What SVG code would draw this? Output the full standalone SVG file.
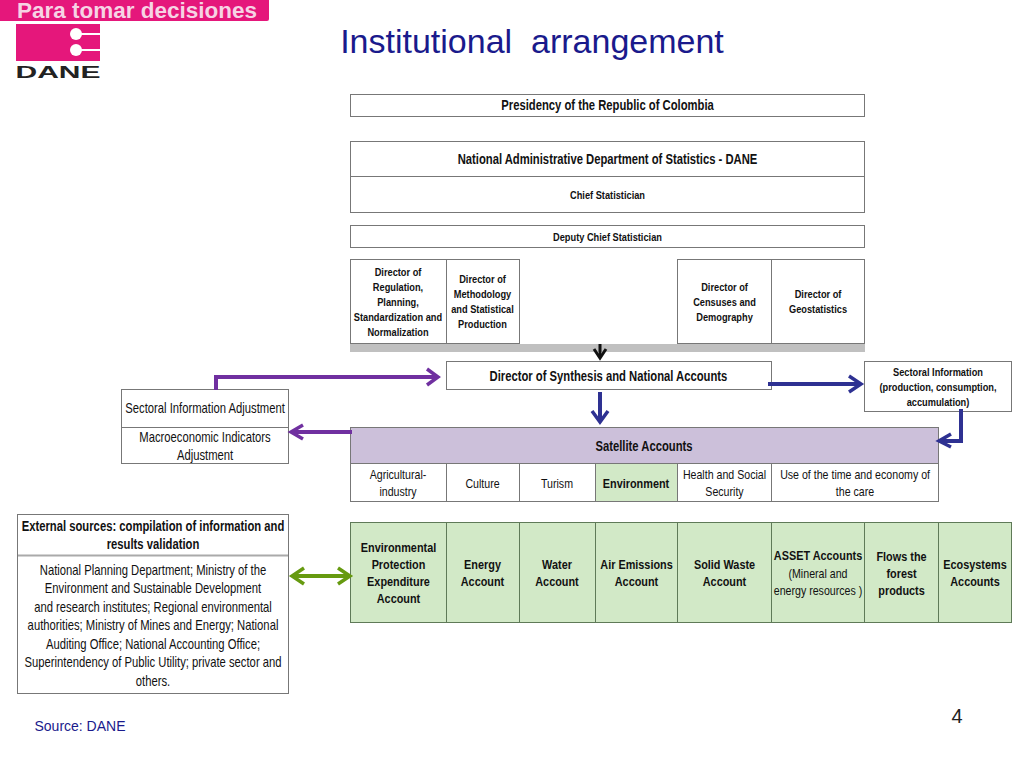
<svg xmlns="http://www.w3.org/2000/svg" width="1024" height="768" viewBox="0 0 1024 768">
<style>
text{font-family:"Liberation Sans",Arial,sans-serif;fill:#111;text-anchor:middle}
.s,.m,.t,.k{transform-box:fill-box;transform-origin:center;transform:scaleX(.805)}
.b{font-weight:700}
.s{font-size:11.500px}.m{font-size:14px}.t{font-size:13.200px}.k{font-size:13.500px;font-weight:700}
.box{fill:#fff;stroke:#777;stroke-width:1}
.g{fill:#d2e9c7;stroke:#5f7a58}
.c{fill:none;stroke-width:4}
.h{fill:none;stroke-width:3.500}
.pu{stroke:#7030a0}.bl{stroke:#2e3192}.gr{stroke:#669a10}
</style>
<rect width="1024" height="768" fill="#fff"/>
<g id="logo">
<path d="M0 0H269V19Q269 21 267 21H0Z" fill="#e5177b"/>
<text x="17" y="18" style="font-size:22.500px;font-weight:700;fill:#f6d3e4;text-anchor:start">Para tomar decisiones</text>
<rect x="16" y="24" width="84" height="37" fill="#e5177b"/>
<path d="M76 34H100M76 50H100" stroke="#fff" stroke-width="2"/>
<circle cx="76" cy="34" r="6" fill="#fff"/><circle cx="76" cy="50" r="6" fill="#fff"/>
<text x="58" y="78" style="font-size:17px;font-weight:700;fill:#222" textLength="85" lengthAdjust="spacingAndGlyphs">DANE</text>
</g>
<text x="532" y="53" xml:space="preserve" style="font-size:34px;fill:#1a1a8c;white-space:pre">Institutional  arrangement</text>
<g id="presidency"><rect class="box" x="350.500" y="94.500" width="514" height="22"/><text class="b m" x="607.500" y="110">Presidency of the Republic of Colombia</text></g>
<g id="dane"><rect class="box" x="350.500" y="141.500" width="514" height="35"/><text class="b m" x="607.500" y="164">National Administrative Department of Statistics - DANE</text></g>
<g id="chief"><rect class="box" x="350.500" y="176.500" width="514" height="36"/><text class="b s" x="607.500" y="199">Chief Statistician</text></g>
<g id="deputy"><rect class="box" x="350.500" y="225.500" width="514" height="22"/><text class="b s" x="607.500" y="241">Deputy Chief Statistician</text></g>
<rect x="350" y="344" width="515" height="8" fill="#c0c0c0"/>
<g id="dir-regulation"><rect class="box" x="350.500" y="259.500" width="96" height="84"/><text class="b s" x="398" y="276">Director of</text><text class="b s" x="398" y="291">Regulation,</text><text class="b s" x="398" y="306">Planning,</text><text class="b s" x="398" y="321">Standardization and</text><text class="b s" x="398" y="336">Normalization</text></g>
<g id="dir-methodology"><rect class="box" x="446.500" y="259.500" width="73" height="84"/><text class="b s" x="482.500" y="283">Director of</text><text class="b s" x="482.500" y="298">Methodology</text><text class="b s" x="482.500" y="313">and Statistical</text><text class="b s" x="482.500" y="328">Production</text></g>
<g id="dir-censuses"><rect class="box" x="677.500" y="259.500" width="94" height="84"/><text class="b s" x="724.500" y="291">Director of</text><text class="b s" x="724.500" y="306">Censuses and</text><text class="b s" x="724.500" y="321">Demography</text></g>
<g id="dir-geo"><rect class="box" x="771.500" y="259.500" width="93" height="84"/><text class="b s" x="818" y="298">Director of</text><text class="b s" x="818" y="313">Geostatistics</text></g>
<g id="dir-synthesis"><rect class="box" x="446.500" y="361.500" width="325" height="28"/><text class="b m" x="608.500" y="381">Director of Synthesis and National Accounts</text></g>
<g id="sectoral-info"><rect class="box" x="864.500" y="361.500" width="147" height="50"/><text class="b s" x="938" y="376">Sectoral Information</text><text class="b s" x="938" y="391">(production, consumption,</text><text class="b s" x="938" y="406">accumulation)</text></g>
<g id="sectoral-adj"><rect class="box" x="121.500" y="389.500" width="167" height="38"/><text class="m" x="205" y="413">Sectoral Information Adjustment</text></g>
<g id="macro-adj"><rect class="box" x="121.500" y="427.500" width="167" height="36"/><text class="m" x="205" y="442">Macroeconomic Indicators</text><text class="m" x="205" y="460">Adjustment</text></g>
<g id="satellite"><rect class="box" x="350.500" y="427.500" width="588" height="36" style="fill:#ccc0da"/><text class="b m" x="644" y="451">Satellite Accounts</text></g>
<g id="sat-agri"><rect class="box" x="350.500" y="463.500" width="96" height="38"/><text class="t" x="398" y="479">Agricultural-</text><text class="t" x="398" y="496">industry</text></g>
<g id="sat-culture"><rect class="box" x="446.500" y="463.500" width="73" height="38"/><text class="t" x="482.500" y="488">Culture</text></g>
<g id="sat-turism"><rect class="box" x="519.500" y="463.500" width="76" height="38"/><text class="t" x="557" y="488">Turism</text></g>
<g id="sat-env"><rect class="box" x="595.500" y="463.500" width="82" height="38" style="fill:#d2e9c7"/><text class="k" x="636" y="488">Environment</text></g>
<g id="sat-health"><rect class="box" x="677.500" y="463.500" width="94" height="38"/><text class="t" x="724.500" y="479">Health and Social</text><text class="t" x="724.500" y="496">Security</text></g>
<g id="sat-time"><rect class="box" x="771.500" y="463.500" width="167" height="38"/><text class="t" x="855" y="479">Use of the time and economy of</text><text class="t" x="855" y="496">the care</text></g>
<g id="ext-head"><rect class="box" x="17.500" y="514.500" width="271" height="41"/><text class="b m" x="153" y="531">External sources: compilation of information and</text><text class="b m" x="153" y="549">results validation</text></g>
<g id="ext-body"><rect class="box" x="17.500" y="555.500" width="271" height="138"/>
<path d="M18 555.500H288" stroke="#aaa" stroke-width="2"/>
<text class="m" x="153" y="575">National Planning Department; Ministry of the</text><text class="m" x="153" y="593">Environment and Sustainable Development</text><text class="m" x="153" y="612">and research institutes; Regional environmental</text><text class="m" x="153" y="630">authorities; Ministry of Mines and Energy; National</text><text class="m" x="153" y="649">Auditing Office; National Accounting Office;</text><text class="m" x="153" y="667">Superintendency of Public Utility; private sector and</text><text class="m" x="153" y="686">others.</text></g>
<g id="acc-env"><rect class="box g" x="350.500" y="522.500" width="96" height="100"/><text class="k" x="398.500" y="552">Environmental</text><text class="k" x="398.500" y="569">Protection</text><text class="k" x="398.500" y="586">Expenditure</text><text class="k" x="398.500" y="603">Account</text></g>
<g id="acc-energy"><rect class="box g" x="446.500" y="522.500" width="73" height="100"/><text class="k" x="482.500" y="569">Energy</text><text class="k" x="482.500" y="586">Account</text></g>
<g id="acc-water"><rect class="box g" x="519.500" y="522.500" width="76" height="100"/><text class="k" x="557" y="569">Water</text><text class="k" x="557" y="586">Account</text></g>
<g id="acc-air"><rect class="box g" x="595.500" y="522.500" width="82" height="100"/><text class="k" x="636.500" y="569">Air Emissions</text><text class="k" x="636.500" y="586">Account</text></g>
<g id="acc-solid"><rect class="box g" x="677.500" y="522.500" width="94" height="100"/><text class="k" x="724.500" y="569">Solid Waste</text><text class="k" x="724.500" y="586">Account</text></g>
<g id="acc-asset"><rect class="box g" x="771.500" y="522.500" width="93" height="100"/><text class="k" x="818" y="560">ASSET Accounts</text><text class="t" x="818" y="578">(Mineral and</text><text class="t" x="818" y="595">energy resources )</text></g>
<g id="acc-flows"><rect class="box g" x="864.500" y="522.500" width="74" height="100"/><text class="k" x="901.500" y="561">Flows the</text><text class="k" x="901.500" y="578">forest</text><text class="k" x="901.500" y="595">products</text></g>
<g id="acc-eco"><rect class="box g" x="938.500" y="522.500" width="73" height="100"/><text class="k" x="975" y="569">Ecosystems</text><text class="k" x="975" y="586">Accounts</text></g>
<g id="connectors">
<path class="c pu" d="M216 390V377H436"/><path class="h pu" d="M427 369L438 377L427 385"/>
<path class="c pu" d="M352 432H292"/><path class="h pu" d="M303 425L291 432L303 439"/>
<path class="c bl" d="M600 392V420"/><path class="h bl" d="M592 411L600 422L608 411"/>
<path class="c bl" d="M768 384H860"/><path class="h bl" d="M849 376L861 384L849 392"/>
<path class="c bl" d="M961 409V441H942"/><path class="h bl" d="M951 434L939 441L951 447"/>
<path d="M600 344V356" stroke="#111" stroke-width="3" fill="none"/><path d="M594 349L600 358L606 349" stroke="#111" stroke-width="3" fill="none"/>
<path class="c gr" d="M294 576H348"/><path class="h gr" d="M304 568L292 576L304 584M338 568L350 576L338 584"/>
</g>
<text x="80" y="731" style="font-size:14px;fill:#1a1a8c">Source: DANE</text>
<text x="957" y="723" style="font-size:20px;fill:#222">4</text>
</svg>
